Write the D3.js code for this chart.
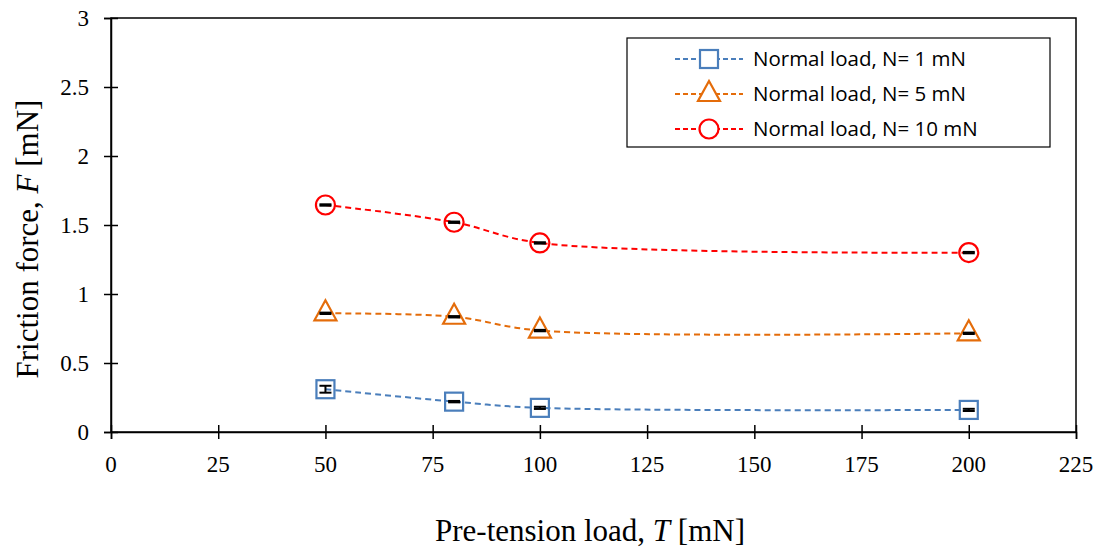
<!DOCTYPE html>
<html>
<head>
<meta charset="utf-8">
<script src="https://cdn.jsdelivr.net/npm/d3@7"></script>
<style>
  body { margin: 0; background: #fff; }
</style>
</head>
<body>
<svg id="chart" width="1101" height="549"></svg>
<script>
// values
const tension = [50, 80, 100, 200];
const series1 = [0.31, 0.22, 0.175, 0.16];
const series5 = [0.86, 0.835, 0.735, 0.715];
const series10 = [1.645, 1.52, 1.37, 1.30];
const err1 = [0.025, 0.005, 0.008, 0.008];
const err5 = [0.005, 0.005, 0.005, 0.005];
const err10 = [0.005, 0.005, 0.005, 0.005];
const seriesNames = ["Normal load, N= 1 mN", "Normal load, N= 5 mN", "Normal load, N= 10 mN"];
const xTicks = [0, 25, 50, 75, 100, 125, 150, 175, 200, 225];
const yTicks = [0, 0.5, 1, 1.5, 2, 2.5, 3];

const svg = d3.select("#chart");
const margin = { left: 111, right: 25, top: 18, bottom: 117 };
const width = 1101 - margin.left - margin.right;
const height = 549 - margin.top - margin.bottom;

const serif = "'Liberation Serif', 'Times New Roman', Times, serif";
const tickFont = 23;

const x = d3.scaleLinear().domain([0, 225]).range([0, width]);
const y = d3.scaleLinear().domain([0, 3]).range([height, 0]);

const g = svg.append("g").attr("transform", `translate(${margin.left},${margin.top})`);

// frame
g.append("rect")
  .attr("width", width).attr("height", height)
  .attr("fill", "none").attr("stroke", "#000").attr("stroke-width", 1.5);

// axes with crossing ticks (labels drawn separately in serif)
const xAxis = g.append("g").attr("transform", `translate(0,${height})`)
  .call(d3.axisBottom(x).tickValues(xTicks).tickSize(7).tickFormat(""));
xAxis.selectAll(".tick line").attr("y1", -7).attr("stroke-width", 1.5);
xAxis.select(".domain").attr("stroke-width", 1.5);

const yAxis = g.append("g")
  .call(d3.axisLeft(y).tickValues(yTicks).tickSize(7).tickFormat(""));
yAxis.selectAll(".tick line").attr("x1", 7).attr("stroke-width", 1.5);
yAxis.select(".domain").attr("stroke-width", 1.5);

// Times digits are 0.5em wide, the point 0.25em
const labelWidth = s => [...s].reduce((w, c) => w + (c === "." ? 0.25 : 0.5), 0) * tickFont;

function tickLabel(v, px, py, anchor) {
  const s = String(v);
  svg.append("text")
    .attr("x", px).attr("y", py)
    .attr("text-anchor", anchor)
    .attr("textLength", labelWidth(s))
    .attr("lengthAdjust", "spacingAndGlyphs")
    .style("font-family", serif).style("font-size", tickFont + "px")
    .text(s);
}
xTicks.forEach(v => tickLabel(v, margin.left + x(v), margin.top + height + 40, "middle"));
yTicks.forEach(v => tickLabel(v, margin.left - 22, margin.top + y(v) + 8, "end"));

// axis titles
const xt = svg.append("text")
  .attr("x", 590).attr("y", 541)
  .attr("text-anchor", "middle")
  .attr("font-family", "Liberation Serif").attr("font-size", 31);
xt.append("tspan").text("Pre-tension load, ");
xt.append("tspan").attr("font-style", "italic").text("T");
xt.append("tspan").text(" [mN]");

const yt = svg.append("text")
  .attr("transform", `translate(38,${margin.top + height / 2 + 14}) rotate(-90)`)
  .attr("text-anchor", "middle")
  .attr("font-family", "Liberation Serif").attr("font-size", 31);
yt.append("tspan").text("Friction force, ");
yt.append("tspan").attr("font-style", "italic").text("F");
yt.append("tspan").text(" [mN]");

// series
const series = [
  { name: seriesNames[0], vals: series1, err: err1, color: "#4a7ebb", marker: "square" },
  { name: seriesNames[1], vals: series5, err: err5, color: "#e46c0a", marker: "triangle" },
  { name: seriesNames[2], vals: series10, err: err10, color: "#ff0000", marker: "circle" }
];

const line = d3.line()
  .x(d => x(d[0])).y(d => y(d[1]))
  .curve(d3.curveCatmullRom.alpha(0.5));

function drawMarker(sel, type, color) {
  if (type === "square") {
    sel.append("rect").attr("x", -9).attr("y", -9).attr("width", 18).attr("height", 18)
      .attr("fill", "none").attr("stroke", color).attr("stroke-width", 2.2);
  } else if (type === "triangle") {
    sel.append("path").attr("d", "M0,-13 L11,7 L-11,7 Z")
      .attr("fill", "none").attr("stroke", color).attr("stroke-width", 2.2);
  } else {
    sel.append("circle").attr("r", 9.5)
      .attr("fill", "none").attr("stroke", color).attr("stroke-width", 2.2);
  }
}

series.forEach(s => {
  const pts = tension.map((t, i) => [t, s.vals[i]]);
  g.append("path").datum(pts)
    .attr("d", line)
    .attr("fill", "none").attr("stroke", s.color)
    .attr("stroke-width", 2).attr("stroke-dasharray", "6,4");

  pts.forEach((p, i) => {
    const px = x(p[0]), py = y(p[1]);
    const m = g.append("g").attr("transform", `translate(${px},${py})`);
    drawMarker(m, s.marker, s.color);
    // error bars
    const e = s.err[i];
    const y0 = y(p[1] - e) - py, y1 = y(p[1] + e) - py;
    const eb = g.append("g").attr("transform", `translate(${px},${py})`)
      .attr("stroke", "#000").attr("stroke-width", 2);
    eb.append("line").attr("x1", 0).attr("x2", 0).attr("y1", y0).attr("y2", y1);
    eb.append("line").attr("x1", -6).attr("x2", 6).attr("y1", y0).attr("y2", y0);
    eb.append("line").attr("x1", -6).attr("x2", 6).attr("y1", y1).attr("y2", y1);
  });
});

// legend
const legend = svg.append("g").attr("transform", "translate(627,38)");
legend.append("rect").attr("width", 423).attr("height", 109)
  .attr("fill", "#fff").attr("stroke", "#000").attr("stroke-width", 1.2);
series.forEach((s, i) => {
  const row = legend.append("g").attr("transform", `translate(0,${21 + i * 35})`);
  row.append("line").attr("x1", 48).attr("x2", 116).attr("y1", 0).attr("y2", 0)
    .attr("stroke", s.color).attr("stroke-width", 2).attr("stroke-dasharray", "5,3");
  const m = row.append("g").attr("transform", "translate(82,0)");
  drawMarker(m, s.marker, s.color);
  m.selectAll("*").attr("fill", "#fff");
  row.append("text").attr("x", 126).attr("y", 7)
    .attr("font-family", "Open Sans").attr("font-size", 20.5)
    .text(s.name);
});
</script>
</body>
</html>
